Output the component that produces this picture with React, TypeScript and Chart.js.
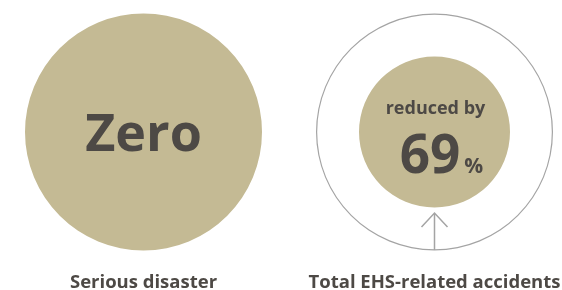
import React, { useEffect, useRef } from "react";
import { Chart, registerables } from "chart.js";

Chart.register(...registerables);

const categories = ["Serious disaster", "Total EHS-related accidents"];
const seriousDisasterValue = ["Zero"];
const reductionLabel = ["reduced by"];
const reductionPercent = [69];
const remainingShare = [100 - reductionPercent[0]];
const baselineShare = [100];

const FILL = "#c4ba94";
const TEXT = "#4d4945";
const LINE = "#a4a4a4";
const FONT = "'Open Sans', 'Noto Sans', sans-serif";

function centerOf(chart: any) {
  const a = chart.chartArea;
  return { cx: (a.left + a.right) / 2, cy: (a.top + a.bottom) / 2 };
}

const leftText = {
  id: "leftText",
  afterDraw(chart: any) {
    const ctx = chart.ctx;
    const { cx, cy } = centerOf(chart);
    ctx.save();
    ctx.fillStyle = TEXT;
    ctx.textAlign = "center";
    ctx.textBaseline = "alphabetic";
    ctx.font = `700 52px ${FONT}`;
    ctx.fillText(seriousDisasterValue[0], cx, cy + 19);
    ctx.font = `700 18.5px ${FONT}`;
    ctx.fillText(categories[0], cx, cy + 156);
    ctx.restore();
  },
};

const rightText = {
  id: "rightText",
  afterDraw(chart: any) {
    const ctx = chart.ctx;
    const { cx, cy } = centerOf(chart);
    ctx.save();
    ctx.strokeStyle = LINE;
    ctx.lineWidth = 1.5;
    ctx.beginPath();
    ctx.moveTo(cx, cy + 118);
    ctx.lineTo(cx, cy + 81);
    ctx.moveTo(cx - 13, cy + 95);
    ctx.lineTo(cx, cy + 81);
    ctx.lineTo(cx + 13, cy + 95);
    ctx.stroke();

    ctx.fillStyle = TEXT;
    ctx.textBaseline = "alphabetic";
    ctx.textAlign = "center";
    ctx.font = `700 18px ${FONT}`;
    ctx.fillText(reductionLabel[0], cx + 1, cy - 18);

    ctx.font = `700 53px ${FONT}`;
    const big = String(reductionPercent[0]);
    const w = ctx.measureText(big).width;
    const bx = cx - 4.5;
    ctx.fillText(big, bx, cy + 41);
    ctx.font = `700 21px ${FONT}`;
    ctx.textAlign = "left";
    ctx.fillText("%", bx + w / 2 + 4, cy + 41);

    ctx.textAlign = "center";
    ctx.font = `700 18.5px ${FONT}`;
    ctx.fillText(categories[1], cx, cy + 156);
    ctx.restore();
  },
};

export default function App() {
  const leftRef = useRef<HTMLCanvasElement>(null);
  const rightRef = useRef<HTMLCanvasElement>(null);

  useEffect(() => {
    const common: any = {
      responsive: false,
      animation: false,
      events: [],
      plugins: { legend: { display: false }, tooltip: { enabled: false } },
    };
    const left = new Chart(leftRef.current as HTMLCanvasElement, {
      type: "pie",
      data: {
        labels: [categories[0]],
        datasets: [
          {
            data: baselineShare,
            backgroundColor: [FILL],
            borderWidth: 0,
          },
        ],
      },
      options: {
        ...common,
        layout: { padding: { left: 25, top: 13.5, right: 28, bottom: 39.5 } },
      },
      plugins: [leftText],
    });
    const right = new Chart(rightRef.current as HTMLCanvasElement, {
      type: "pie",
      data: {
        labels: [categories[1]],
        datasets: [
          { data: baselineShare, backgroundColor: [LINE], borderWidth: 0, weight: 1.2 },
          { data: baselineShare, backgroundColor: ["rgba(0,0,0,0)"], borderWidth: 0, weight: 41.8 },
          { data: remainingShare, backgroundColor: [FILL], borderWidth: 0, weight: 75.5 },
        ],
      },
      options: {
        ...common,
        layout: { padding: { left: 26, top: 13.5, right: 9, bottom: 39.5 } },
      },
      plugins: [rightText],
    });
    return () => {
      left.destroy();
      right.destroy();
    };
  }, []);

  return (
    <div style={{ position: "fixed", left: 0, top: 0, width: 562, height: 290, background: "#fff" }}>
      <canvas ref={leftRef} width={290} height={290} style={{ position: "absolute", left: 0, top: 0, width: 290, height: 290 }} />
      <canvas ref={rightRef} width={272} height={290} style={{ position: "absolute", left: 290, top: 0, width: 272, height: 290 }} />
    </div>
  );
}
